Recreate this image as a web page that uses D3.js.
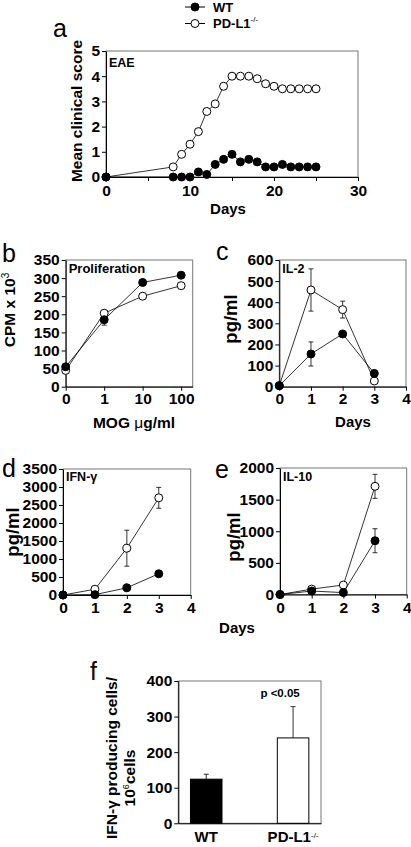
<!DOCTYPE html>
<html><head><meta charset="utf-8">
<script src="https://cdn.jsdelivr.net/npm/d3@7"></script>
<style>
body{margin:0;background:#fff}
svg{display:block}
text{font-family:"Liberation Sans",Arial,Helvetica,sans-serif;font-weight:bold;fill:#000}
</style>
</head><body>
<svg id="chart" width="411" height="847"></svg>
<script>
// ---------- DATA ----------
// Panel a: EAE clinical score
const eaeDays = [0, 8, 9, 10, 11, 12, 13, 14, 15, 16, 17, 18, 19, 20, 21, 22, 23, 24, 25];
const eaeWT   = [0, 0, 0, 0, 0.2, 0.1, 0.5, 0.7, 0.9, 0.6, 0.7, 0.6, 0.4, 0.4, 0.5, 0.4, 0.4, 0.4, 0.4];
const eaeKO   = [0, 0.4, 0.9, 1.3, 1.8, 2.6, 2.9, 3.6, 4.0, 4.0, 4.0, 3.9, 3.7, 3.6, 3.5, 3.5, 3.5, 3.5, 3.5];
const eaeXTicks = [0, 5, 10, 15, 20, 25, 30];
const eaeYTicks = [0, 1, 2, 3, 4, 5];

// Panel b: proliferation vs MOG dose
const mogDoses = ["0", "1", "10", "100"];
const prolifWT = [55, 185, 288, 308];
const prolifKO = [45, 203, 250, 279];
const prolifWTErr = [0, 15, 0, 0];
const prolifKOErr = [0, 0, 0, 0];
const prolifYTicks = [0, 50, 100, 150, 200, 250, 300, 350];

// Panels c-e: cytokines vs days
const cytoDays = [0, 1, 2, 3];
const dayTicks = [0, 1, 2, 3, 4];
const il2WT = [5, 155, 250, 63];
const il2KO = [5, 458, 365, 27];
const il2WTErr = [0, 57, 10, 0];
const il2KOErr = [0, 100, 40, 0];
const il2YTicks = [0, 100, 200, 300, 400, 500, 600];

const ifnWT = [0, 10, 200, 590];
const ifnKO = [0, 160, 1300, 2700];
const ifnWTErr = [0, 0, 0, 0];
const ifnKOErr = [0, 0, 500, 290];
const ifnYTicks = [0, 500, 1000, 1500, 2000, 2500, 3000, 3500];

const il10WT = [0, 55, 30, 850];
const il10KO = [0, 85, 150, 1710];
const il10WTErr = [0, 0, 0, 190];
const il10KOErr = [0, 0, 0, 190];
const il10YTicks = [0, 500, 1000, 1500, 2000];

// Panel f: IFN-gamma producing cells
const groups = ["WT", "PD-L1"];
const spotValues = [124, 240];
const spotErr = [14, 88];
const spotYTicks = [0, 100, 200, 300, 400];

// ---------- DRAW ----------
const svg = d3.select("#chart");
const TICK_FS = "15.5px";

function styleAxis(g, fs) {
  g.selectAll("text").style("font-size", fs || TICK_FS).style("font-weight", "bold").attr("fill", "#000");
  g.selectAll("line").attr("stroke", "#000");
  g.select(".domain").attr("stroke", "#000");
}

function linePanel(o) {
  const g = svg.append("g");
  const x = d3.scaleLinear().domain(o.xDomain).range([o.x0, o.x1]);
  const y = d3.scaleLinear().domain(o.yDomain).range([o.y1, o.y0]);
  g.append("rect").attr("x", o.x0).attr("y", o.y0).attr("width", o.x1 - o.x0).attr("height", o.y1 - o.y0)
    .attr("fill", "none").attr("stroke", "#777").attr("stroke-width", 1);
  const xa = d3.axisBottom(x).tickValues(o.xTicks).tickSize(4).tickSizeOuter(0).tickPadding(o.xPad)
    .tickFormat(o.xFormat || d3.format("d"));
  g.append("g").attr("transform", `translate(0,${o.y1})`).call(xa).call(s => styleAxis(s));
  const ya = d3.axisLeft(y).tickValues(o.yTicks).tickSize(4).tickSizeOuter(0).tickPadding(2).tickFormat(d3.format("d"));
  g.append("g").attr("transform", `translate(${o.x0},0)`).call(ya).call(s => styleAxis(s));
  o.series.forEach(s => {
    const pts = s.xs.map((xv, i) => ({ x: xv, y: s.ys[i], e: s.err ? s.err[i] : 0 }));
    g.append("path").datum(pts)
      .attr("d", d3.line().x(d => x(d.x)).y(d => y(d.y)))
      .attr("fill", "none").attr("stroke", "#000").attr("stroke-width", 0.8);
    s._pts = pts;
  });
  o.series.forEach(s => {
    s._pts.filter(d => d.e > 0).forEach(d => {
      const cx = x(d.x), t = y(d.y + d.e), b = y(d.y - d.e);
      g.append("line").attr("x1", cx).attr("x2", cx).attr("y1", t).attr("y2", b).attr("stroke", "#000").attr("stroke-width", 0.8);
      [t, b].forEach(yy => g.append("line").attr("x1", cx - 2.5).attr("x2", cx + 2.5).attr("y1", yy).attr("y2", yy)
        .attr("stroke", "#000").attr("stroke-width", 0.8));
    });
  });
  o.series.forEach(s => {
    g.selectAll(null).data(s._pts).enter().append("circle")
      .attr("cx", d => x(d.x)).attr("cy", d => y(d.y)).attr("r", 4)
      .attr("fill", s.filled ? "#000" : "#fff").attr("stroke", "#000").attr("stroke-width", 1);
  });
  g.append("text").attr("x", o.x0 + 3).attr("y", o.titleY).style("font-size", o.titleFs || "12.5px").text(o.title);
  return { x, y, g };
}

function panelLetter(t, x, y) {
  svg.append("text").attr("x", x).attr("y", y).style("font-size", "25px").style("font-weight", "normal").text(t);
}
function yLabel(t, x, y, fs) {
  return svg.append("text").attr("transform", `translate(${x},${y}) rotate(-90)`).attr("text-anchor", "middle")
    .style("font-size", fs).text(t);
}
function xLabel(t, x, y, fs) {
  return svg.append("text").attr("x", x).attr("y", y).attr("text-anchor", "middle").style("font-size", fs).text(t);
}

// Legend
(function () {
  const lg = svg.append("g");
  const rows = [{ label: "WT", filled: true, y: 7 }, { label: "PD-L1", filled: false, y: 23.5 }];
  rows.forEach(r => {
    lg.append("line").attr("x1", 185).attr("x2", 205).attr("y1", r.y).attr("y2", r.y).attr("stroke", "#000").attr("stroke-width", 1);
    lg.append("circle").attr("cx", 195).attr("cy", r.y).attr("r", 4).attr("fill", r.filled ? "#000" : "#fff").attr("stroke", "#000");
    const t = lg.append("text").attr("x", 213).attr("y", r.y + 4.8).style("font-size", "13px").text(r.label);
    if (!r.filled) t.append("tspan").attr("dy", -6).style("font-size", "8px").style("font-weight", "normal").text("-/-");
  });
})();

// Panel a
panelLetter("a", 53, 37);
linePanel({
  x0: 106, x1: 358, y0: 51, y1: 177, xDomain: [0, 30], yDomain: [0, 5],
  xTicks: eaeXTicks, xFormat: d => (d % 10 === 0 ? d : ""), xPad: 4, yTicks: eaeYTicks,
  series: [{ xs: eaeDays, ys: eaeKO, filled: false }, { xs: eaeDays, ys: eaeWT, filled: true }],
  title: "EAE", titleY: 67
});
yLabel("Mean clinical score", 81.5, 111, "15.5px");
xLabel("Days", 228, 214, "15px");

// Panel b
panelLetter("b", 2, 262);
linePanel({
  x0: 65.7, x1: 192.7, y0: 260, y1: 386.7, xDomain: [0, 3.3], yDomain: [0, 350],
  xTicks: mogDoses.map((d, i) => i), xFormat: i => mogDoses[i], xPad: 2, yTicks: prolifYTicks,
  series: [
    { xs: mogDoses.map((d, i) => i), ys: prolifKO, err: prolifKOErr, filled: false },
    { xs: mogDoses.map((d, i) => i), ys: prolifWT, err: prolifWTErr, filled: true }
  ],
  title: "Proliferation", titleY: 272.5, titleFs: "13px"
});
(function () {
  const t = yLabel("CPM x 10", 15, 310, "15.5px");
  t.append("tspan").attr("dy", -6).style("font-size", "10px").style("font-weight", "normal").text("3");
})();
(function () {
  const t = xLabel("MOG ", 134, 428, "15.5px");
  t.append("tspan").style("font-weight", "normal").text("\u03bc");
  t.append("tspan").text("g/ml");
})();

// Panel c
panelLetter("c", 216, 260);
linePanel({
  x0: 279.3, x1: 406, y0: 260, y1: 386.7, xDomain: [0, 4], yDomain: [0, 600],
  xTicks: dayTicks, xPad: 2, yTicks: il2YTicks,
  series: [
    { xs: cytoDays, ys: il2KO, err: il2KOErr, filled: false },
    { xs: cytoDays, ys: il2WT, err: il2WTErr, filled: true }
  ],
  title: "IL-2", titleY: 272.5
});
yLabel("pg/ml", 236.5, 319, "18.5px");
xLabel("Days", 353, 427, "15px");

// Panel d
panelLetter("d", 2, 477);
linePanel({
  x0: 63, x1: 190.7, y0: 469, y1: 595, xDomain: [0, 4], yDomain: [0, 3500],
  xTicks: dayTicks, xPad: 3, yTicks: ifnYTicks,
  series: [
    { xs: cytoDays, ys: ifnKO, err: ifnKOErr, filled: false },
    { xs: cytoDays, ys: ifnWT, err: ifnWTErr, filled: true }
  ],
  title: "IFN-\u03b3", titleY: 481
});
yLabel("pg/ml", 19, 532, "18.5px");

// Panel e
panelLetter("e", 215, 478);
linePanel({
  x0: 280, x1: 406.7, y0: 468, y1: 594.5, xDomain: [0, 4], yDomain: [0, 2000],
  xTicks: dayTicks, xPad: 3, yTicks: il10YTicks,
  series: [
    { xs: cytoDays, ys: il10KO, err: il10KOErr, filled: false },
    { xs: cytoDays, ys: il10WT, err: il10WTErr, filled: true }
  ],
  title: "IL-10", titleY: 481
});
yLabel("pg/ml", 239.5, 537, "18.5px");
xLabel("Days", 237, 633, "15px");

// Panel f
panelLetter("f", 90, 680);
(function () {
  const x0 = 178.3, x1 = 321, y0 = 681, y1 = 823.3;
  const g = svg.append("g");
  const x = d3.scaleBand().domain(groups).range([x0, x1]).paddingInner(0.637).paddingOuter(0.14);
  const y = d3.scaleLinear().domain([0, 400]).range([y1, y0]);
  g.append("rect").attr("x", x0).attr("y", y0).attr("width", x1 - x0).attr("height", y1 - y0)
    .attr("fill", "none").attr("stroke", "#777");
  const data = groups.map((k, i) => ({ k, v: spotValues[i], e: spotErr[i], i }));
  data.forEach(d => {
    const cx = x(d.k) + x.bandwidth() / 2;
    g.append("line").attr("x1", cx).attr("x2", cx).attr("y1", y(d.v)).attr("y2", y(d.v + d.e)).attr("stroke", "#000").attr("stroke-width", 0.8);
    g.append("line").attr("x1", cx - 2.5).attr("x2", cx + 2.5).attr("y1", y(d.v + d.e)).attr("y2", y(d.v + d.e)).attr("stroke", "#000").attr("stroke-width", 0.8);
  });
  g.selectAll(null).data(data).enter().append("rect")
    .attr("x", d => x(d.k)).attr("width", x.bandwidth())
    .attr("y", d => y(d.v)).attr("height", d => y1 - y(d.v))
    .attr("fill", d => d.i === 0 ? "#000" : "#fff").attr("stroke", "#000").attr("stroke-width", 1);
  g.append("g").attr("transform", `translate(${x0},0)`)
    .call(d3.axisLeft(y).tickValues(spotYTicks).tickSize(4).tickSizeOuter(0).tickPadding(2))
    .call(s => styleAxis(s));
  g.append("g").attr("transform", `translate(0,${y1})`)
    .call(d3.axisBottom(x).tickSize(0).tickPadding(8))
    .call(s => styleAxis(s, "15px"))
    .call(s => s.selectAll(".tick text").each(function (d) {
      if (d === "PD-L1") d3.select(this).append("tspan").attr("dy", "-0.55em").style("font-size", "8px").style("font-weight", "normal").text("-/-");
    }));
  g.append("text").attr("x", x("PD-L1") + x.bandwidth() / 2 - 13).attr("y", 697).attr("text-anchor", "middle")
    .style("font-size", "11.5px").text("p <0.05");
  yLabel("IFN-\u03b3 producing cells/", 117, 758, "15.5px");
  const l2 = yLabel("10", 135, 778, "15.5px");
  l2.append("tspan").attr("dy", -6).style("font-size", "9px").style("font-weight", "normal").text("6");
  l2.append("tspan").attr("dy", 6).text("cells");
})();
</script>
</body></html>
